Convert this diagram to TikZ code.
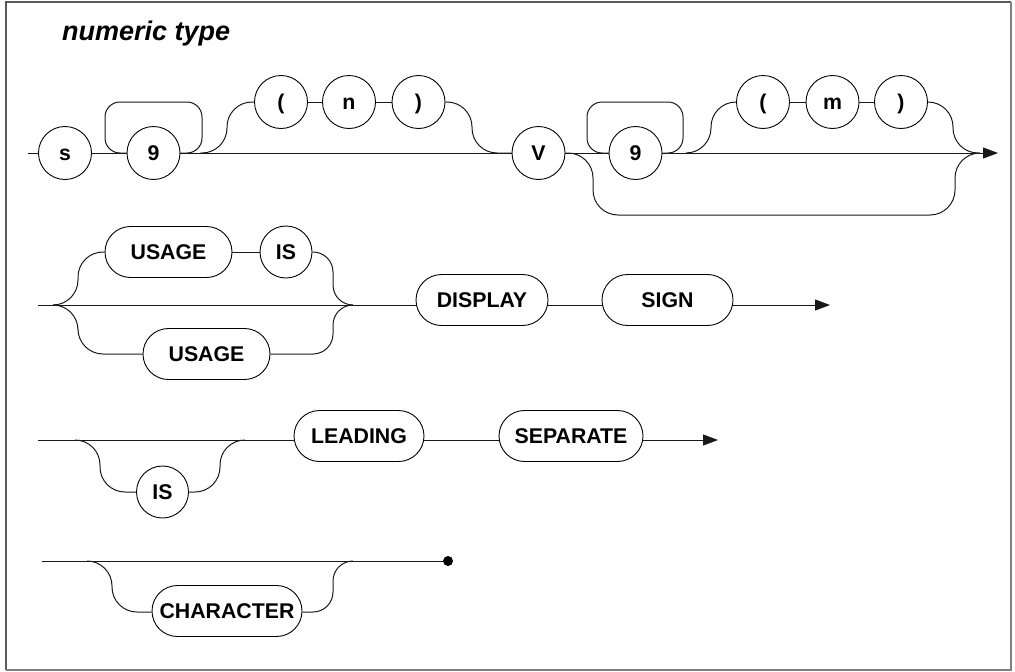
\documentclass[tikz,border=0pt]{standalone}
\usepackage{fontspec}
\setmainfont{Liberation Sans}
\usetikzlibrary{arrows.meta}
\newcommand\diaglabel{\fontsize{21.3}{25}\selectfont\bfseries}
\newcommand\diagtitle{\fontsize{27}{31}\selectfont\bfseries\itshape}
\begin{document}
\begin{tikzpicture}[x=1pt,y=-1pt,
  line/.style={line width=1pt, black!90},
  term/.style={circle, draw, line width=0.9pt, minimum size=53pt, inner sep=0pt,
    font=\diaglabel, text height=15.2pt, text depth=0pt},
  kw/.style={rectangle, draw, line width=0.9pt, rounded corners=25.5pt,
    minimum height=51pt, inner sep=0pt, font=\diaglabel, text height=15.2pt, text depth=0pt},
  tip/.style={-{Triangle[length=15pt,width=11pt]}}
]
\useasboundingbox (0,0) rectangle (1015,672);

% frame
\draw[black!65, line width=1.5pt] (6,670) -- (6,2) -- (1011,2);
\draw[black!50, line width=2.5pt] (1011,2) -- (1011,670) -- (6,670);

% title
\node[anchor=base west, font=\diagtitle, inner sep=0pt] (title) at (62,40) {numeric type};

% ---------- row 1 ----------
\coordinate (a0) at (28,153);
\coordinate (b1) at (200,153);
\coordinate (b2) at (686,153);
\coordinate (a1) at (998,153);
\node[term] (s) at (65,153) {s};
\node[term] (nine1) at (153.5,153) {9};
\node[term] (lp1) at (281,102) {(};
\node[term] (n) at (349,102) {n};
\node[term] (rp1) at (418.5,102) {)};
\node[term] (V) at (538.5,153) {V};
\node[term] (nine2) at (635.5,153) {9};
\node[term] (lp2) at (763,102) {(};
\node[term] (m) at (832.5,102) {m};
\node[term] (rp2) at (901,102) {)};

\draw[line] (a0) -- (s);
\draw[line] (s) -- (nine1);
\draw[line, rounded corners=15pt] (nine1.west) -- (105,153) -- (105,102) -- (202,102) -- (202,153) -- (nine1.east);
\draw[line] (nine1) -- (V);
\draw[line, rounded corners=25pt] (b1) -| (227,102) -- (lp1);
\draw[line] (lp1) -- (n);
\draw[line] (n) -- (rp1);
\draw[line, rounded corners=25pt] (rp1.east) -| (472,153) -- (V);
\draw[line] (V) -- (nine2);
\draw[line, rounded corners=15pt] (nine2.west) -- (587,153) -- (587,102) -- (683,102) -- (683,153) -- (nine2.east);
\draw[line, tip] (nine2.east) -- (a1);
\draw[line, rounded corners=25pt] (b2) -| (711,102) -- (lp2);
\draw[line] (lp2) -- (m);
\draw[line] (m) -- (rp2);
\draw[line, rounded corners=25pt] (rp2.east) -| (953,153) -- (980,153);
\draw[line, rounded corners=25pt] (V.east) -| (593,215) -| (955,153) -- (980,153);

% ---------- row 2 ----------
\coordinate (c0) at (38,305);
\coordinate (c1) at (53,305);
\coordinate (c2) at (353,305);
\coordinate (c3) at (830,305);
\node[kw, minimum width=127pt] (usage1) at (168.5,252) {USAGE};
\node[term, minimum size=52pt] (is1) at (286,252) {IS};
\node[kw, minimum width=127pt] (usage2) at (206.5,354) {USAGE};
\node[kw, minimum width=132pt] (display) at (482,300) {DISPLAY};
\node[kw, minimum width=131pt] (sign) at (667.5,300) {SIGN};

\draw[line] (c0) -- ([yshift=-5pt]display.west);
\draw[line, rounded corners=25pt] (c1) -| (78,252) -- (usage1);
\draw[line] (usage1) -- (is1);
\draw[line, rounded corners=20pt] (is1.east) -| (333,305) -- (c2);
\draw[line, rounded corners=25pt] (c1) -| (78,354) -- (usage2);
\draw[line, rounded corners=20pt] (usage2.east) -| (333,305) -- (c2);
\draw[line] ([yshift=-5pt]display.east) -- ([yshift=-5pt]sign.west);
\draw[line, tip] ([yshift=-5pt]sign.east) -- (c3);

% ---------- row 3 ----------
\coordinate (d0) at (38,440);
\coordinate (d1) at (75,440);
\coordinate (d2) at (245,440);
\coordinate (d3) at (718,440);
\node[term, minimum size=52pt] (is2) at (162.5,492) {IS};
\node[kw, minimum width=130pt] (leading) at (359,436) {LEADING};
\node[kw, minimum width=144pt] (separate) at (571,436) {SEPARATE};

\draw[line] (d0) -- ([yshift=-4pt]leading.west);
\draw[line, rounded corners=25pt] (d1) -| (100,492) -- (is2);
\draw[line, rounded corners=25pt] (is2.east) -| (220,440) -- (d2);
\draw[line] ([yshift=-4pt]leading.east) -- ([yshift=-4pt]separate.west);
\draw[line, tip] ([yshift=-4pt]separate.east) -- (d3);

% ---------- row 4 ----------
\coordinate (e0) at (42,561);
\coordinate (e1) at (87,561);
\coordinate (e2) at (353,561);
\node[kw, minimum width=150pt] (character) at (227,611) {CHARACTER};
\node[circle, fill, inner sep=0pt, minimum size=10pt] (dot) at (448,561) {};

\draw[line] (e0) -- (dot);
\draw[line, rounded corners=25pt] (e1) -| (112,612) -- ([yshift=-1pt]character.west);
\draw[line, rounded corners=20pt] ([yshift=-1pt]character.east) -| (333,561) -- (e2);
\end{tikzpicture}
\end{document}
